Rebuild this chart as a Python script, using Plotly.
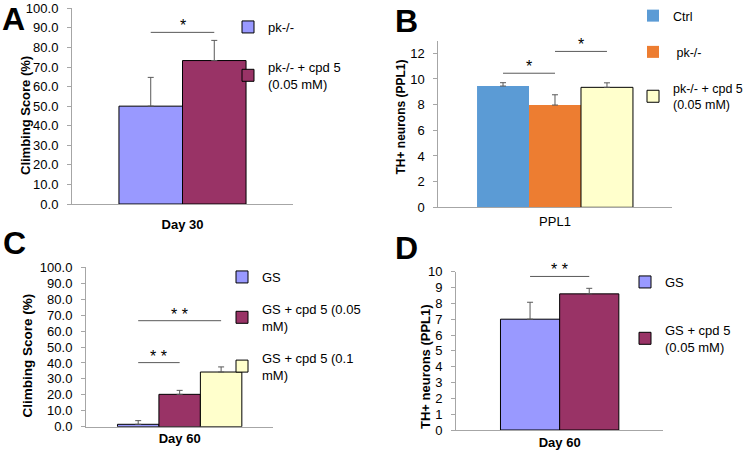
import plotly.graph_objects as go

# ---------------- data ----------------
a_category = ["Day 30"]
a_series = ["pk-/-", "pk-/- + cpd 5<br>(0.05 mM)"]
a_values = [50.0, 73.3]
a_errors = [14.7, 10.3]
a_sig = [(0, 1, 87.7, "*")]

b_category = ["PPL1"]
b_series = ["Ctrl", " pk-/-", "pk-/- + cpd 5<br>(0.05 mM)"]
b_values = [9.45, 7.97, 9.35]
b_errors = [0.26, 0.80, 0.35]
b_sig = [(0, 1, 10.45, "*"), (1, 2, 12.15, "*")]

c_category = ["Day 60"]
c_series = ["GS", "GS + cpd 5 (0.05<br>mM)", "GS + cpd 5 (0.1<br>mM)"]
c_values = [1.5, 20.3, 34.3]
c_errors = [2.3, 2.5, 3.2]
c_sig = [(0, 2, 66.5, "* *"), (0, 1, 40.2, "* *")]

d_category = ["Day 60"]
d_series = ["GS", "GS + cpd 5<br>(0.05 mM)"]
d_values = [7.0, 8.6]
d_errors = [1.07, 0.35]
d_sig = [(0, 1, 9.7, "* *")]

y_titles = ["Climbing Score (%)", "TH+ neurons (PPL1)", "Climbing Score (%)", "TH+ neurons (PPL1)"]
panel_labels = ["A", "B", "C", "D"]

# ---------------- style ----------------
W, H = 745, 456
FONT = "Liberation Sans, Arial, sans-serif"
AXIS_GRAY = "#a6a6a6"
ERR_COLOR = "#595959"
BARGAP = 0.425
GROUP = 1 - BARGAP

PURPLE = "#9999ff"
MAROON = "#993366"
YELLOW = "#ffffcc"
BLUE = "#5b9bd5"
ORANGE = "#ed7d31"


def fx(px):
    return px / W


def fy(py):
    return 1 - py / H


panels = [
    dict(key="", cats=a_category, series=a_series, vals=a_values, errs=a_errors, sig=a_sig,
         colors=[PURPLE, MAROON], outline=[True, True],
         xdom=(72, 293), y0px=204, ytop=8.3, yrange=(0, 100), dtick=10, fmt=".1f",
         frac=0.575, xbold=True, xstand=8, ytsize=13, ytpos=(25, 116),
         legend=dict(textx=268, ytop=12, gap=20, size=13), labelpos=(14, 0), labelanchor="top"),
    dict(key="2", cats=b_category, series=b_series, vals=b_values, errs=b_errors, sig=b_sig,
         colors=[BLUE, ORANGE, YELLOW], outline=[False, False, True],
         xdom=(438.3, 671.7), y0px=207.3, ytop=40.5, yrange=(0, 13), dtick=2, fmt="",
         frac=0.668, xbold=False, xstand=2, ytsize=12, ytpos=(400, 117.5),
         legend=dict(textx=673, ytop=1, gap=17, size=12.5), labelpos=(406, 21), labelanchor="middle"),
    dict(key="3", cats=c_category, series=c_series, vals=c_values, errs=c_errors, sig=c_sig,
         colors=[PURPLE, MAROON, YELLOW], outline=[True, True, True],
         xdom=(86, 273.3), y0px=426.7, ytop=267.3, yrange=(0, 100), dtick=10, fmt=".1f",
         frac=0.664, xbold=True, xstand=0, ytsize=13.5, ytpos=(27, 355.5),
         legend=dict(textx=262, ytop=262, gap=12, size=13), labelpos=(15, 243), labelanchor="middle"),
    dict(key="4", cats=d_category, series=d_series, vals=d_values, errs=d_errors, sig=d_sig,
         colors=[PURPLE, MAROON], outline=[True, True],
         xdom=(456, 663.3), y0px=430, ytop=271.7, yrange=(0, 10), dtick=1, fmt="",
         frac=0.571, xbold=True, xstand=0, ytsize=13, ytpos=(425, 366),
         legend=dict(textx=665, ytop=267, gap=28, size=13), labelpos=(406, 248), labelanchor="middle"),
]

fig = go.Figure()
layout = dict(
    width=W, height=H, margin=dict(l=0, r=0, t=0, b=0, autoexpand=False),
    paper_bgcolor="white", plot_bgcolor="white",
    barmode="group", bargap=BARGAP, bargroupgap=0,
    font=dict(family=FONT, color="#000000"),
    showlegend=True,
)
shapes = []
annotations = []

for p, ytitle, plabel in zip(panels, y_titles, panel_labels):
    k = p["key"]
    xa, ya = "x" + k, "y" + k
    legname = "legend" + k
    n = len(p["series"])
    for i, (name, v, e, col, ol) in enumerate(zip(p["series"], p["vals"], p["errs"], p["colors"], p["outline"])):
        fig.add_trace(go.Bar(
            x=p["cats"], y=[v], name=name, xaxis=xa, yaxis=ya,
            legend=legname, legendgroup=f"{legname}_{i}",
            marker=dict(color=col, line=dict(color="#000000" if ol else col, width=1 if ol else 0)),
            error_y=dict(type="data", symmetric=False, array=[e], arrayminus=[0],
                         color=ERR_COLOR, thickness=1, width=3),
            hoverinfo="skip",
        ))
    half = GROUP / (2 * p["frac"])
    layout["xaxis" + k] = dict(
        domain=[fx(p["xdom"][0]), fx(p["xdom"][1])], anchor=ya, type="category",
        range=[-half, half], showline=True, linecolor=AXIS_GRAY, linewidth=1,
        ticks="", showgrid=False, zeroline=False, ticklabelstandoff=p["xstand"], automargin=False,
        tickfont=dict(size=13, weight="bold" if p["xbold"] else "normal", family=FONT),
    )
    layout["yaxis" + k] = dict(
        domain=[fy(p["y0px"]), fy(p["ytop"])], anchor=xa, range=list(p["yrange"]),
        dtick=p["dtick"], tick0=0, tickformat=p["fmt"], showline=True, linecolor=AXIS_GRAY,
        linewidth=1, ticks="outside", ticklen=4, tickcolor=AXIS_GRAY, showgrid=False,
        zeroline=False, tickfont=dict(size=13, family=FONT), automargin=False,
        ticklabelstandoff=6,
    )
    # y-axis title
    annotations.append(dict(xref="paper", yref="paper", x=fx(p["ytpos"][0]), y=fy(p["ytpos"][1]),
                            text=ytitle, textangle=-90, showarrow=False,
                            xanchor="center", yanchor="middle",
                            font=dict(size=p["ytsize"], weight="bold", family=FONT, color="#000000")))
    lg = p["legend"]
    layout[legname] = dict(
        x=fx(lg["textx"] - 40), y=fy(lg["ytop"]), xanchor="left", yanchor="top",
        font=dict(size=lg["size"], family=FONT), traceorder="grouped", tracegroupgap=lg["gap"],
        bgcolor="rgba(0,0,0,0)",
    )
    # significance bars
    for (i0, i1, yv, txt) in p["sig"]:
        c0 = -GROUP / 2 + (i0 + 0.5) * GROUP / n
        c1 = -GROUP / 2 + (i1 + 0.5) * GROUP / n
        shapes.append(dict(type="line", xref=xa, yref=ya, x0=c0, x1=c1, y0=yv, y1=yv,
                           line=dict(color="#595959", width=1)))
        annotations.append(dict(xref=xa, yref=ya, x=(c0 + c1) / 2, y=yv, text=txt,
                                showarrow=False, yanchor="bottom", yshift=-4,
                                font=dict(size=16, family=FONT, color="#000000")))
    annotations.append(dict(xref="paper", yref="paper", x=fx(p["labelpos"][0]), y=fy(p["labelpos"][1]),
                            text=plabel, showarrow=False, xanchor="center", yanchor=p["labelanchor"],
                            borderpad=0,
                            font=dict(size=32, weight="bold", family=FONT, color="#000000")))

layout["shapes"] = shapes
layout["annotations"] = annotations
fig.update_layout(**layout)
fig.write_html(
    "out.html",
    config={"displayModeBar": False},
    post_script="document.body.style.margin='0';document.body.style.padding='0';",
)
